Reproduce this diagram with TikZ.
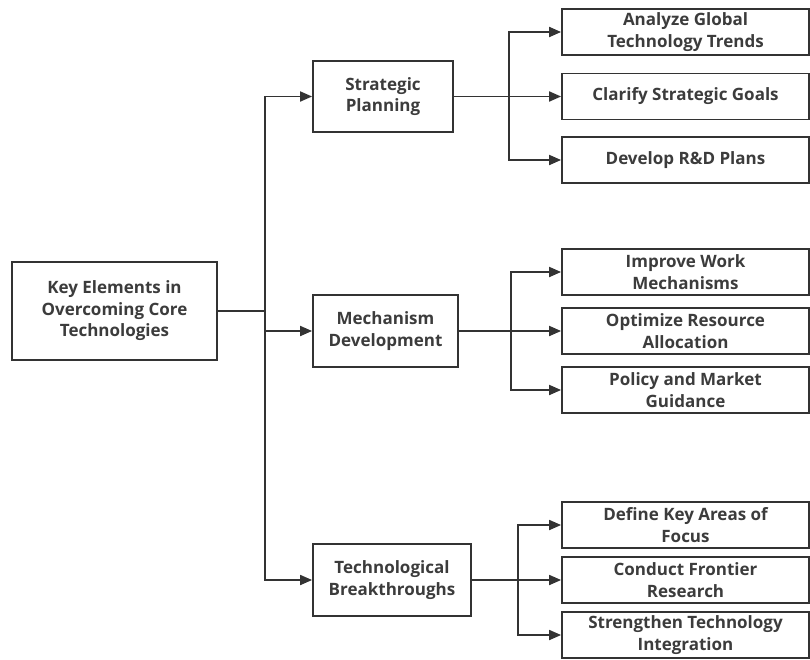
\documentclass[tikz,border=0pt]{standalone}
\usepackage{fontspec}
\setmainfont{Open Sans}
\usetikzlibrary{arrows.meta}
\definecolor{linegray}{HTML}{333333}
\definecolor{textgray}{HTML}{3C3C3C}
\tikzset{
  box/.style={draw=linegray, line width=1.8pt, fill=white, align=center, inner sep=0pt,
    text=textgray, font=\fontsize{17}{21.5}\selectfont\bfseries},
  leafbox/.style={box, minimum width=247, minimum height=46},
  link/.style={draw=linegray, line width=1.8pt},
  arr/.style={link, -{Triangle[length=12pt,width=10pt]}}
}
\begin{document}
\begin{tikzpicture}[x=1pt,y=-1pt]
\useasboundingbox (0,0) rectangle (810,659);
% root and main branches
\node[box, minimum width=205, minimum height=98] (key) at (114.5,311) {Key Elements in\\Overcoming Core\\Technologies};
\node[box, minimum width=140, minimum height=71] (plan) at (383,96.5) {Strategic\\Planning};
\node[box, minimum width=145, minimum height=72] (mech) at (385.5,331) {Mechanism\\Development};
\node[box, minimum width=158, minimum height=72] (tech) at (392,580) {Technological\\Breakthroughs};
% leaves
\node[leafbox] (plana) at (685.5,32) {Analyze Global\\Technology Trends};
\node[leafbox] (planb) at (685.5,96.5) {Clarify Strategic Goals};
\node[leafbox] (planc) at (685.5,160) {Develop R\&D Plans};
\node[leafbox] (mecha) at (685.5,272) {Improve Work\\Mechanisms};
\node[leafbox] (mechb) at (685.5,331) {Optimize Resource\\Allocation};
\node[leafbox] (mechc) at (685.5,390) {Policy and Market\\Guidance};
\node[leafbox] (techa) at (685.5,525) {Define Key Areas of\\Focus};
\node[leafbox] (techb) at (685.5,580) {Conduct Frontier\\Research};
\node[leafbox] (techc) at (685.5,635) {Strengthen Technology\\Integration};
\coordinate (trunk) at (265,311);
\draw[link] (key.east) -- (trunk);
\draw[arr] (trunk) |- (plan.west);
\draw[arr] (trunk) |- (mech.west);
\draw[arr] (trunk) |- (tech.west);
\draw[arr] (plan.east) -- ++(55,0) |- (plana.west);
\draw[arr] (plan.east) -- (planb.west);
\draw[arr] (plan.east) -- ++(55,0) |- (planc.west);
\draw[arr] (mech.east) -- ++(52,0) |- (mecha.west);
\draw[arr] (mech.east) -- (mechb.west);
\draw[arr] (mech.east) -- ++(52,0) |- (mechc.west);
\draw[arr] (tech.east) -- ++(46,0) |- (techa.west);
\draw[arr] (tech.east) -- (techb.west);
\draw[arr] (tech.east) -- ++(46,0) |- (techc.west);
\end{tikzpicture}
\end{document}
